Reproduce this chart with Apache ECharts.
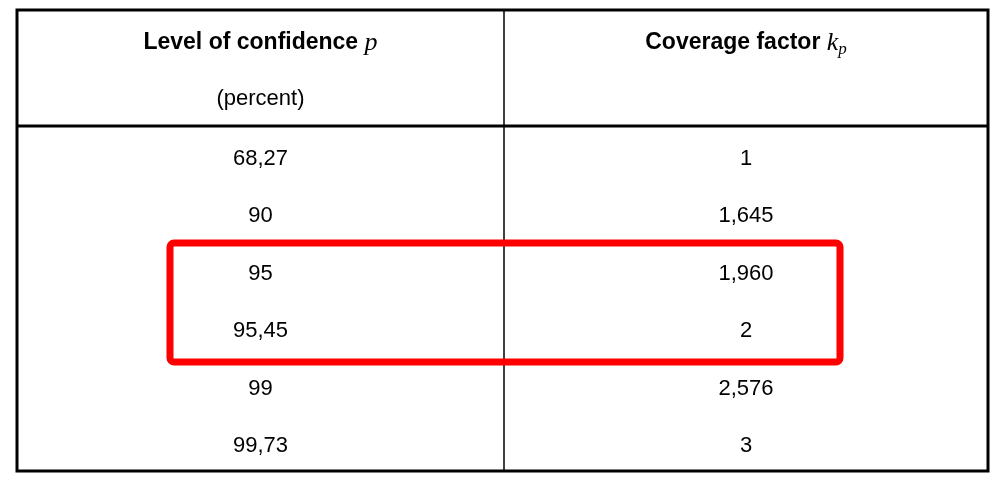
<!DOCTYPE html>
<html><head><meta charset="utf-8">
<script src="https://cdn.jsdelivr.net/npm/echarts@6/dist/echarts.min.js"></script>
<style>html,body{margin:0;background:#fff}#c{width:1006px;height:484px}</style>
</head><body><div id="c"></div>
<script>
// table data
var confidence = ['68,27', '90', '95', '95,45', '99', '99,73'];
var coverage = ['1', '1,645', '1,960', '2', '2,576', '3'];
var highlightRows = [2, 3];

var chart = echarts.init(document.getElementById('c'));
var L = 17, R = 988, T = 10, B = 471, midX = 504, headB = 126;
var rowH = (B - headB) / confidence.length;
var col1 = (L + midX) / 2, col2 = (midX + R) / 2;
var font = '"Liberation Sans", Arial, sans-serif';

var g = [];
g.push({ type: 'rect', shape: { x: L, y: T, width: R - L, height: B - T }, style: { fill: '#fff', stroke: '#000', lineWidth: 3 } });
g.push({ type: 'line', shape: { x1: midX, y1: T, x2: midX, y2: B }, style: { stroke: '#000', lineWidth: 1.5 } });
g.push({ type: 'line', shape: { x1: L, y1: headB, x2: R, y2: headB }, style: { stroke: '#000', lineWidth: 3 } });

var rich = {
  b: { fontFamily: font, fontWeight: 'bold', fontSize: 23, fill: '#000' },
  i: { fontFamily: '"Liberation Serif", serif', fontStyle: 'italic', fontSize: 26, fill: '#000' },
  s: { fontFamily: '"Liberation Serif", serif', fontStyle: 'italic', fontSize: 17, fill: '#000', padding: [14, 0, 0, 0] }
};
g.push({ type: 'text', x: col1, y: 43, style: { text: '{b|Level of confidence }{i|p}', rich: rich, align: 'center', verticalAlign: 'middle' } });
g.push({ type: 'text', x: col1, y: 99, style: { text: '(percent)', font: '22px ' + font, fill: '#000', align: 'center', verticalAlign: 'middle' } });
g.push({ type: 'text', x: col2, y: 43, style: { text: '{b|Coverage factor }{i|k}{s|p}', rich: rich, align: 'center', verticalAlign: 'middle' } });

confidence.forEach(function (v, i) {
  var y = headB + rowH * (i + 0.5) + 4;
  g.push({ type: 'text', x: col1, y: y, style: { text: v, font: '22px ' + font, fill: '#000', align: 'center', verticalAlign: 'middle' } });
  g.push({ type: 'text', x: col2, y: y, style: { text: coverage[i], font: '22px ' + font, fill: '#000', align: 'center', verticalAlign: 'middle' } });
});

var hy1 = headB + rowH * highlightRows[0] + 2, hy2 = headB + rowH * (highlightRows[1] + 1) + 6;
g.push({ type: 'rect', shape: { x: 170, y: hy1, width: 670, height: hy2 - hy1, r: 4 }, style: { fill: 'none', stroke: '#ff0000', lineWidth: 7 } });

chart.setOption({ backgroundColor: '#fff', graphic: g });
</script></body></html>
